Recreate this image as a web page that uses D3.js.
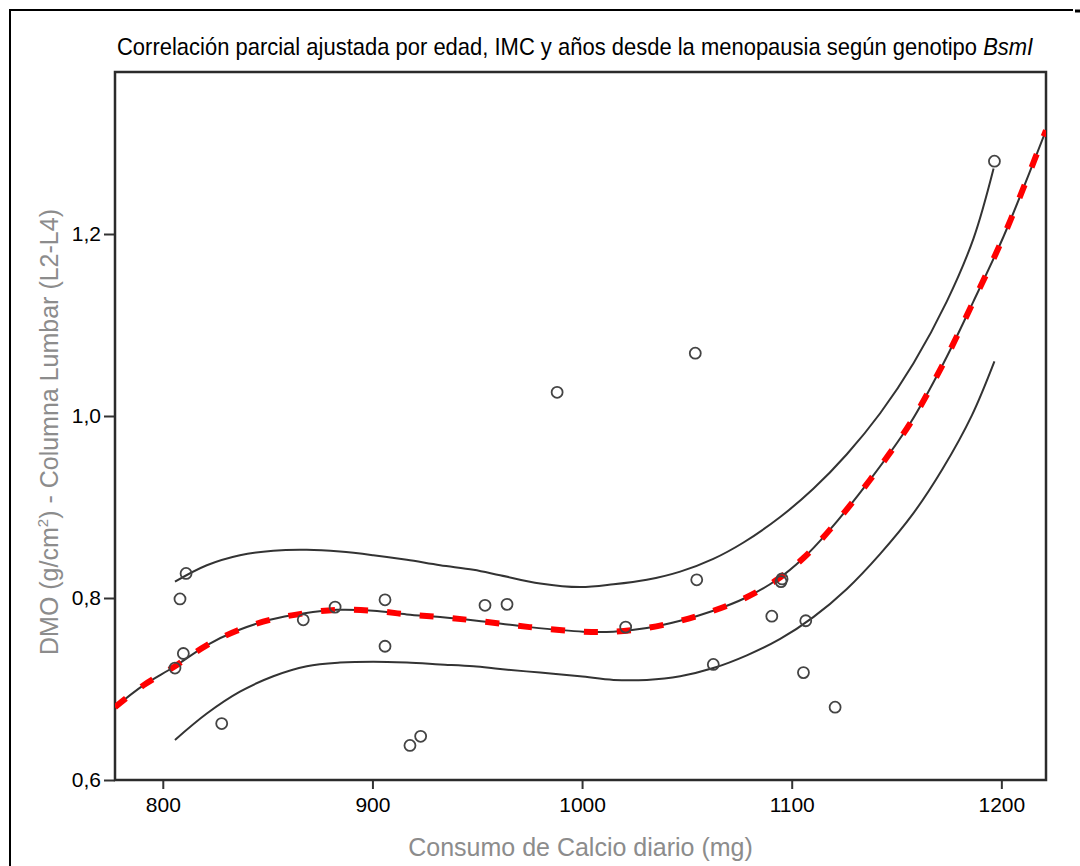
<!DOCTYPE html>
<html lang="es">
<head>
<meta charset="utf-8">
<title>Correlación parcial BsmI</title>
<script src="https://cdn.jsdelivr.net/npm/d3@7/dist/d3.min.js"></script>
<style>
  html, body { margin: 0; padding: 0; background: #fff; }
  svg { display: block; }
</style>
</head>
<body>
<svg id="chart" width="1080" height="866"></svg>
<script>
"use strict";

// ── datos ───────────────────────────────────────────────
const pointX = [808.2, 811.1, 809.8, 805.8, 828.1, 867.0, 882.2, 906.0, 906.0, 917.9, 923.0,
                953.7, 964.2, 988.1, 1020.8, 1054.0, 1054.7, 1062.6, 1090.5, 1094.9, 1095.4,
                1105.6, 1106.7, 1120.7, 1196.7];
const pointY = [0.799, 0.827, 0.739, 0.723, 0.662, 0.776, 0.790, 0.798, 0.747, 0.638, 0.648,
                0.792, 0.793, 1.026, 0.768, 1.069, 0.820, 0.727, 0.780, 0.818, 0.821,
                0.718, 0.775, 0.680, 1.280];

// ajuste cúbico (línea central)
const fitX = [777.2, 790.7, 805.8, 820.9, 835.3, 851.1, 866.9, 883.0, 900.4, 916.4, 932.3,
              949.8, 975.0, 1000.6, 1014.9, 1030.9, 1046.8, 1062.6, 1077.8, 1092.9, 1105.6,
              1116.7, 1137.4, 1156.5, 1172.4, 1186.7, 1201.0, 1213.0, 1221.3];
const fitY = [0.680, 0.704, 0.725, 0.748, 0.764, 0.776, 0.783, 0.787, 0.786, 0.782, 0.779,
              0.775, 0.768, 0.763, 0.763, 0.767, 0.775, 0.786, 0.800, 0.820, 0.844,
              0.871, 0.930, 0.992, 1.058, 1.126, 1.197, 1.265, 1.314];

// intervalo de confianza superior / inferior
const upperX = [805.8, 821.0, 836.8, 852.7, 868.7, 884.5, 900.4, 916.4, 932.3, 948.2, 960.9,
                980.0, 999.0, 1015.0, 1030.9, 1046.8, 1062.6, 1077.0, 1094.5, 1110.3, 1126.3,
                1142.2, 1158.1, 1174.0, 1186.7, 1196.3];
const upperY = [0.818, 0.836, 0.847, 0.852, 0.853, 0.851, 0.847, 0.842, 0.836, 0.831, 0.825,
                0.816, 0.812, 0.815, 0.820, 0.829, 0.843, 0.861, 0.889, 0.920, 0.958,
                1.003, 1.058, 1.126, 1.195, 1.272];
const lowerX = [805.8, 821.0, 836.8, 852.7, 868.7, 884.5, 900.4, 916.4, 932.3, 948.2, 960.9,
                980.0, 999.0, 1015.0, 1030.9, 1046.8, 1062.6, 1078.6, 1094.5, 1110.3, 1126.3,
                1142.0, 1158.0, 1172.0, 1186.0, 1196.7];
const lowerY = [0.644, 0.673, 0.697, 0.714, 0.725, 0.729, 0.730, 0.729, 0.727, 0.725, 0.722,
                0.718, 0.714, 0.710, 0.710, 0.714, 0.723, 0.737, 0.755, 0.779, 0.810,
                0.848, 0.893, 0.942, 1.001, 1.060];

const xTicks = [800, 900, 1000, 1100, 1200];
const yTicks = [0.6, 0.8, 1.0, 1.2];

const TITLE = "Correlación parcial ajustada por edad, IMC y años desde la menopausia según genotipo ";
const TITLE_ITALIC = "BsmI";
const X_LABEL = "Consumo de Calcio diario (mg)";

// ── layout ─────────────────────────────────────────────
const W = 1080, H = 866;
const plot = { left: 115, right: 1046, top: 72, bottom: 780 };
const FONT = "'Liberation Sans', Arial, Helvetica, sans-serif";
const TITLE_WIDTH = 917;

const svg = d3.select("#chart");

const x = d3.scaleLinear().domain([777.2, 1221.3]).range([plot.left, plot.right]);
const y = d3.scaleLinear().domain([0.6, 0.6 + (plot.bottom - plot.top) / 910]).range([plot.bottom, plot.top]);

// marco exterior (recortado)
svg.append("line").attr("x1", 9).attr("x2", 1073).attr("y1", 10).attr("y2", 10)
   .attr("stroke", "#000").attr("stroke-width", 2);
svg.append("line").attr("x1", 10).attr("x2", 10).attr("y1", 9).attr("y2", H)
   .attr("stroke", "#000").attr("stroke-width", 2);
svg.append("line").attr("x1", 1075).attr("x2", 1080).attr("y1", 11).attr("y2", 11)
   .attr("stroke", "#000").attr("stroke-width", 3);

// título: un solo texto, comprimido en horizontal para imitar la fuente estrecha
const titleG = svg.append("g");
const title = titleG.append("text")
   .attr("x", 0).attr("y", 0)
   .attr("font-family", FONT).attr("font-size", 24).attr("fill", "#000")
   .attr("xml:space", "preserve")
   .style("white-space", "pre");
title.append("tspan").text(TITLE);
title.append("tspan").attr("font-style", "italic").text(TITLE_ITALIC);
const natural = title.node().getComputedTextLength();
titleG.attr("transform", `translate(117,55) scale(${TITLE_WIDTH / natural},1)`);

// ejes
const xAxis = svg.append("g")
   .attr("transform", `translate(0,${plot.bottom})`)
   .call(d3.axisBottom(x).tickValues(xTicks).tickSize(9).tickPadding(8).tickFormat(d3.format("d")));
const yAxis = svg.append("g")
   .attr("transform", `translate(${plot.left},0)`)
   .call(d3.axisLeft(y).tickValues(yTicks).tickSize(11).tickPadding(3)
         .tickFormat(d => d3.format(".1f")(d).replace(".", ",")));

[xAxis, yAxis].forEach(g => {
  g.select(".domain").remove();
  g.selectAll(".tick line").attr("stroke", "#333").attr("stroke-width", 2);
  g.selectAll(".tick text").attr("font-family", FONT).attr("font-size", 21).attr("fill", "#000");
});

// caja del gráfico
svg.append("rect")
   .attr("x", plot.left).attr("y", plot.top)
   .attr("width", plot.right - plot.left).attr("height", plot.bottom - plot.top)
   .attr("fill", "none").attr("stroke", "#2b2b2b").attr("stroke-width", 2.5);

// títulos de ejes
svg.append("text")
   .attr("x", (plot.left + plot.right) / 2).attr("y", 856)
   .attr("text-anchor", "middle")
   .attr("font-family", FONT).attr("font-size", 25).attr("fill", "#8c8c8c")
   .text(X_LABEL);

const yLab = svg.append("text")
   .attr("transform", `translate(58,${(plot.top + plot.bottom) / 2 + 6}) rotate(-90)`)
   .attr("text-anchor", "middle")
   .attr("font-family", FONT).attr("font-size", 25).attr("fill", "#8c8c8c");
yLab.append("tspan").text("DMO (g/cm");
yLab.append("tspan").attr("font-size", 15).attr("dy", -10).text("2");
yLab.append("tspan").attr("dy", 10).text(") - Columna Lumbar (L2-L4)");

// curvas
svg.append("clipPath").attr("id", "clip")
   .append("rect").attr("x", plot.left).attr("y", plot.top)
   .attr("width", plot.right - plot.left).attr("height", plot.bottom - plot.top);

const line = d3.line().x(d => x(d[0])).y(d => y(d[1])).curve(d3.curveCatmullRom.alpha(0.5));
const zip = (a, b) => a.map((v, i) => [v, b[i]]);

const curves = svg.append("g").attr("clip-path", "url(#clip)");

[zip(upperX, upperY), zip(lowerX, lowerY), zip(fitX, fitY)].forEach(pts => {
  curves.append("path").attr("d", line(pts))
     .attr("fill", "none").attr("stroke", "#333").attr("stroke-width", 2);
});

curves.append("path").attr("d", line(zip(fitX, fitY)))
   .attr("fill", "none").attr("stroke", "#ff0000").attr("stroke-width", 6)
   .attr("stroke-dasharray", "14,19");

// puntos
svg.append("g").selectAll("circle")
   .data(zip(pointX, pointY))
   .join("circle")
   .attr("cx", d => x(d[0])).attr("cy", d => y(d[1]))
   .attr("r", 5.5)
   .attr("fill", "none").attr("stroke", "#444").attr("stroke-width", 1.8);
</script>
</body>
</html>
